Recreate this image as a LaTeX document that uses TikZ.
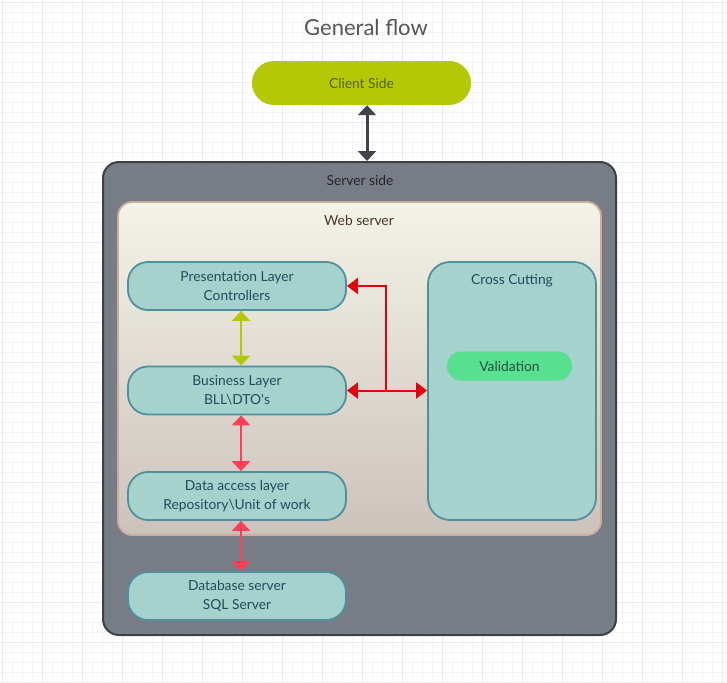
\documentclass[tikz,border=0pt]{standalone}
\usepackage{fontspec}
\setmainfont{Lato}
\usepackage{xcolor}
\usetikzlibrary{arrows.meta, shapes.misc}

\definecolor{gridminor}{HTML}{F4F4F6}
\definecolor{gridmajor}{HTML}{EAEAED}
\definecolor{titletext}{HTML}{555555}
\definecolor{clientfill}{HTML}{B4C806}
\definecolor{clienttext}{HTML}{536300}
\definecolor{srvfill}{HTML}{787C87}
\definecolor{srvline}{HTML}{3D4047}
\definecolor{webtop}{HTML}{F3F3E7}
\definecolor{webbottom}{HTML}{CCC2BC}
\definecolor{webline}{HTML}{C9AE9C}
\definecolor{webtext}{HTML}{4A3222}
\definecolor{layerfill}{HTML}{A5D2CD}
\definecolor{layerline}{HTML}{50909C}
\definecolor{layertext}{HTML}{1F4E5C}
\definecolor{valfill}{HTML}{56E08F}
\definecolor{valtext}{HTML}{24503A}
\definecolor{darkarrow}{HTML}{41434B}
\definecolor{limearrow}{HTML}{B4C806}
\definecolor{pinkarrow}{HTML}{FF3F55}
\definecolor{redarrow}{HTML}{E3000F}

\begin{document}
\begin{tikzpicture}[x=1pt, y=-1pt,
    txt/.style={font=\fontsize{13.8}{19}\selectfont, align=center, inner sep=0pt},
    layer/.style={txt, draw=layerline, line width=1.8pt, fill=layerfill, text=layertext,
        rounded corners=20pt, minimum width=218pt, minimum height=48pt},
    pill/.style={txt, rounded corners=14pt},
    link/.style={line width=2.5pt, {Triangle[width=18pt, length=10pt]}-{Triangle[width=18pt, length=10pt]}},
    redlink/.style={draw=redarrow, line width=2pt}]
    \useasboundingbox (0,0) rectangle (727,682);

    % 背景网格
    \draw[gridminor, line width=0.6pt, shift={(2,2)}, step=10pt] (-2,-2) grid (725,680);
    \draw[gridmajor, line width=0.6pt, shift={(2,2)}, step=40pt] (-2,-2) grid (725,680);

    % 标题
    \node[titletext, font=\fontsize{22}{26}\selectfont] (title) at (366,27) {General flow};

    % 客户端
    \node[pill, fill=clientfill, text=clienttext, rounded corners=22pt,
        minimum width=219pt, minimum height=44pt] (client) at (361.5,83) {Client Side};

    % 服务器端外框
    \node[draw=srvline, line width=2pt, fill=srvfill, rounded corners=16pt,
        minimum width=513pt, minimum height=473pt] (srv) at (359.5,398.5) {};
    \node[txt, text=black!85] (srvlbl) at (360,180) {Server side};

    % Web 服务器(渐变)
    \node[draw=webline, line width=1.8pt, top color=webtop, bottom color=webbottom,
        rounded corners=14pt, minimum width=483pt, minimum height=333pt] (web) at (359.5,368.5) {};
    \node[txt, text=webtext] (weblbl) at (359,220) {Web server};

    % 各层
    \node[layer] (pl) at (237,286) {Presentation Layer\\Controllers};
    \node[layer] (bl) at (237,390.5) {Business Layer\\BLL\textbackslash DTO\textquotesingle s};
    \node[layer] (dal) at (237,496) {Data access layer\\Repository\textbackslash Unit of work};
    \node[layer] (db) at (237,596) {Database server\\SQL Server};

    % 横切关注点
    \node[layer, rounded corners=22pt, minimum width=168pt, minimum height=258pt] (cc) at (512,391) {};
    \node[txt, text=layertext] (cclbl) at (512,280.5) {Cross Cutting};
    \node[pill, fill=valfill, text=valtext, minimum width=125pt, minimum height=29pt] (val) at (509.5,366) {Validation};

    % 连接箭头
    \draw[link, darkarrow, line width=3pt] ([xshift=5.5pt]client.south) -- ([xshift=5.5pt]client.south |- srv.north);
    \draw[link, limearrow, line width=2pt] ([xshift=4pt]pl.south) -- ([xshift=4pt]bl.north);
    \draw[link, pinkarrow] ([xshift=4pt]bl.south) -- ([xshift=4pt]dal.north);
    \draw[link, pinkarrow] ([xshift=4pt]dal.south) -- ([xshift=4pt]db.north);

    % 红色分支箭头
    \coordinate (jn) at (386,390.5);
    \draw[redlink, {Triangle[width=16pt, length=11pt]}-{Triangle[width=16pt, length=11pt]}] (bl.east) -- (bl.east -| cc.west);
    \draw[redlink, -{Triangle[width=16pt, length=11pt]}] (jn) |- (pl.east);
\end{tikzpicture}
\end{document}
